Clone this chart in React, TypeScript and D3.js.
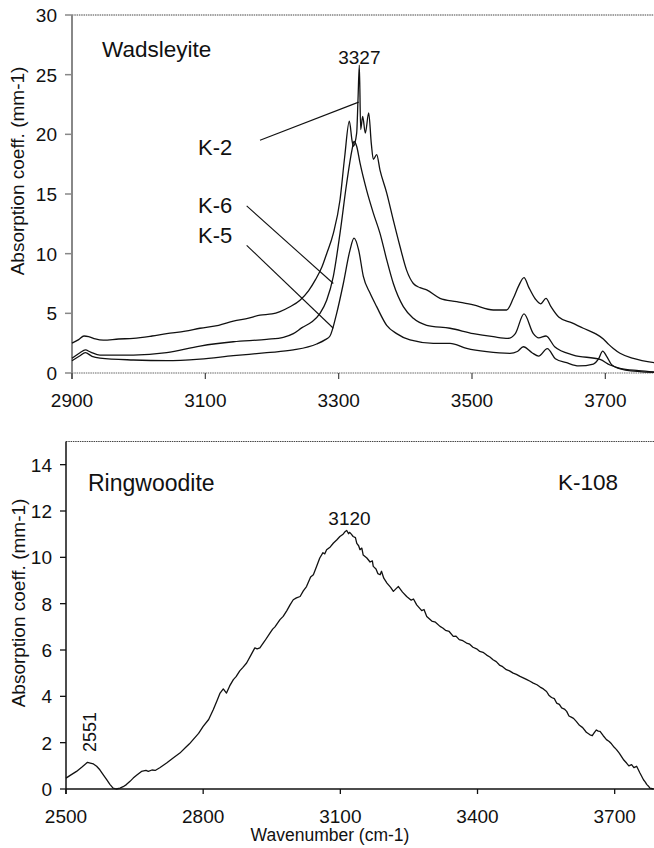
import React from "react";
import * as d3 from "d3";

type P = [number, number];

// Top panel (Wadsleyite) spectra: [wavenumber, absorption]
const K2: P[] = [
  [2900, 2.5], [2910, 2.8], [2918, 3.1], [2925, 3.05], [2935, 2.85], [2947, 2.75], [2970, 2.85], [2992, 2.9],
  [3020, 3.1], [3042, 3.3], [3070, 3.5], [3092, 3.75], [3120, 4.0], [3142, 4.35], [3165, 4.6],
  [3182, 4.85], [3200, 4.95], [3212, 5.15], [3227, 5.55], [3242, 6.1], [3255, 6.9], [3265, 7.8], [3275, 8.9],
  [3282, 10.0], [3292, 11.7], [3302, 14.5], [3309, 18.1], [3316, 21.1], [3320, 19.5], [3322, 19.0],
  [3327, 20.1], [3329, 22.9], [3331, 25.8], [3333, 20.4], [3336, 21.5], [3340, 20.1], [3345, 21.8],
  [3349, 19.2], [3352, 17.9], [3357, 18.3], [3362, 17.0], [3372, 15.1], [3382, 12.8], [3392, 10.6],
  [3402, 8.6], [3412, 7.5], [3422, 7.15], [3432, 6.96], [3452, 6.26], [3477, 5.98], [3502, 5.7],
  [3532, 5.28], [3552, 5.28], [3562, 6.26], [3570, 7.3], [3578, 8.0], [3585, 7.2], [3595, 6.2],
  [3603, 5.8], [3611, 6.26], [3618, 5.6], [3630, 4.7], [3650, 4.2], [3667, 3.75], [3685, 3.3],
  [3697, 2.85], [3705, 2.4], [3712, 2.05], [3722, 1.65], [3742, 1.23], [3775, 0.85],
];
const K6: P[] = [
  [2900, 1.23], [2912, 1.7], [2920, 1.93], [2928, 1.75], [2942, 1.5], [2965, 1.5], [2992, 1.5],
  [3042, 1.7], [3092, 2.26], [3142, 2.62], [3192, 2.82], [3217, 2.99], [3232, 3.3], [3245, 3.8],
  [3260, 4.3], [3272, 5.0], [3282, 6.1], [3292, 8.1], [3302, 11.7], [3312, 15.9], [3320, 18.7],
  [3323, 19.4], [3327, 19.0], [3332, 17.6], [3342, 15.3], [3352, 13.4], [3362, 11.7], [3372, 9.5],
  [3382, 7.5], [3397, 5.56], [3412, 4.58], [3432, 4.0], [3467, 3.75], [3502, 3.3], [3532, 3.04],
  [3554, 2.9], [3565, 3.3], [3578, 4.95], [3592, 3.3], [3600, 2.95], [3611, 3.1], [3624, 2.2],
  [3652, 1.5], [3692, 1.14], [3707, 0.67], [3722, 0.39], [3750, 0.2], [3775, 0.08],
];
const K5: P[] = [
  [2900, 1.03], [2912, 1.45], [2920, 1.7], [2930, 1.4], [2942, 1.25], [2992, 1.09], [3042, 1.03],
  [3092, 1.17], [3142, 1.45], [3192, 1.7], [3232, 1.93], [3267, 2.43], [3280, 2.8], [3287, 3.1],
  [3297, 5.0], [3307, 7.5], [3317, 10.3], [3323, 11.3], [3330, 10.3], [3337, 8.1], [3347, 6.7],
  [3357, 5.56], [3372, 4.0], [3387, 3.3], [3407, 2.77], [3442, 2.49], [3467, 2.49], [3492, 2.07],
  [3522, 1.79], [3557, 1.65], [3568, 1.8], [3577, 2.2], [3590, 1.7], [3600, 1.42], [3613, 2.04],
  [3625, 1.2], [3642, 0.86], [3660, 0.59], [3682, 0.75], [3690, 1.2], [3696, 1.84], [3702, 1.4],
  [3710, 0.67], [3730, 0.25], [3775, 0.05],
];

// Bottom panel (Ringwoodite K-108)
const K108: P[] = [
  [2500, 0.47], [2510, 0.6], [2523, 0.76], [2535, 0.95], [2547, 1.15], [2553, 1.12], [2560, 1.08],
  [2567, 0.98], [2574, 0.83], [2582, 0.6], [2589, 0.4], [2596, 0.2], [2603, 0.04], [2610, 0.0],
  [2618, 0.04], [2625, 0.1], [2632, 0.19], [2640, 0.33], [2647, 0.47], [2655, 0.6], [2665, 0.76],
  [2675, 0.8], [2680, 0.76], [2688, 0.82], [2695, 0.8], [2705, 0.92], [2720, 1.12], [2735, 1.35],
  [2749, 1.55], [2762, 1.8], [2770, 1.95], [2778, 2.13], [2790, 2.4], [2800, 2.7], [2812, 3.0],
  [2822, 3.42], [2830, 3.8], [2837, 4.14], [2844, 4.32], [2851, 4.14], [2858, 4.45], [2866, 4.72],
  [2872, 4.85], [2880, 5.1], [2887, 5.25], [2895, 5.44], [2905, 5.8], [2913, 6.09], [2918, 6.05],
  [2924, 6.09], [2935, 6.4], [2946, 6.73], [2952, 6.9], [2957, 7.0], [2968, 7.31], [2975, 7.45],
  [2983, 7.7], [2990, 7.95], [2997, 8.17], [3004, 8.25], [3012, 8.31], [3019, 8.55], [3026, 8.74],
  [3035, 9.15], [3041, 9.25], [3048, 9.6], [3055, 9.97], [3062, 10.2], [3066, 10.15], [3070, 10.33],
  [3078, 10.45], [3085, 10.62], [3092, 10.75], [3099, 10.9], [3106, 11.0], [3110, 11.1], [3114, 11.16],
  [3118, 11.02], [3120, 11.08], [3124, 11.0], [3128, 10.9], [3133, 10.85], [3136, 10.6], [3140, 10.5],
  [3143, 10.33], [3147, 10.4], [3150, 10.1], [3158, 9.97], [3165, 9.8], [3170, 9.85], [3172, 9.61],
  [3178, 9.5], [3182, 9.3], [3187, 9.25], [3190, 9.4], [3195, 9.1], [3202, 8.89], [3210, 8.7],
  [3216, 8.53], [3222, 8.65], [3227, 8.74], [3236, 8.5], [3245, 8.31], [3255, 8.15], [3260, 8.2],
  [3267, 7.95], [3278, 7.7], [3283, 7.75], [3289, 7.45], [3300, 7.25], [3308, 7.2], [3318, 7.02],
  [3324, 6.95], [3330, 6.85], [3338, 6.8], [3347, 6.59], [3353, 6.6], [3360, 6.45], [3368, 6.4],
  [3376, 6.3], [3383, 6.25], [3390, 6.12], [3398, 6.05], [3405, 5.94], [3412, 5.9], [3420, 5.78],
  [3427, 5.7], [3434, 5.58], [3441, 5.5], [3448, 5.35], [3455, 5.28], [3463, 5.15], [3470, 5.1],
  [3478, 5.0], [3485, 4.95], [3493, 4.86], [3500, 4.8], [3508, 4.72], [3515, 4.65], [3522, 4.57],
  [3530, 4.5], [3537, 4.4], [3544, 4.32], [3551, 4.21], [3556, 4.05], [3562, 3.95], [3568, 3.9],
  [3573, 3.71], [3579, 3.65], [3584, 3.5], [3590, 3.45], [3595, 3.35], [3600, 3.15], [3605, 3.1],
  [3610, 3.05], [3616, 2.92], [3623, 2.75], [3630, 2.65], [3638, 2.45], [3646, 2.34], [3651, 2.3],
  [3655, 2.42], [3660, 2.55], [3664, 2.5], [3668, 2.49], [3675, 2.3], [3682, 2.13], [3688, 2.05],
  [3693, 1.95], [3699, 1.8], [3704, 1.7], [3710, 1.55], [3715, 1.4], [3720, 1.25], [3726, 1.12],
  [3731, 1.0], [3737, 1.05], [3742, 0.92], [3748, 0.98], [3755, 0.7], [3759, 0.55], [3763, 0.4],
  [3767, 0.3], [3770, 0.2], [3774, 0.12], [3777, 0.04], [3785, 0.0],
];

const TOP_X_TICKS = [2900, 3100, 3300, 3500, 3700];
const TOP_Y_TICKS = [0, 5, 10, 15, 20, 25, 30];
const BOT_X_TICKS = [2500, 2800, 3100, 3400, 3700];
const BOT_Y_TICKS = [0, 2, 4, 6, 8, 10, 12, 14];

// Labels with leader lines (data coordinates): [label, textX, textY, lineX1, lineY1, lineX2, lineY2]
const TOP_LABELS: [string, number, number, number, number, number, number][] = [
  ["K-2", 3089, 18.3, 3182, 19.5, 3330, 22.7],
  ["K-6", 3089, 13.4, 3162, 14.0, 3292, 7.5],
  ["K-5", 3089, 10.9, 3162, 10.7, 3292, 3.75],
];

const FONT = "'Liberation Sans', Arial, Helvetica, sans-serif";

export default function App() {
  const W = 654, H = 848;
  // top panel
  const tx = d3.scaleLinear().domain([2900, 3773]).range([72, 654]);
  const ty = d3.scaleLinear().domain([0, 30]).range([373, 15]);
  // bottom panel
  const bx = d3.scaleLinear().domain([2500, 3786]).range([66, 654]);
  const by = d3.scaleLinear().domain([0, 15]).range([789, 441.5]);

  const tLine = d3.line<P>().x((d) => tx(d[0])).y((d) => ty(d[1])).curve(d3.curveMonotoneX);
  const bLine = d3.line<P>().x((d) => bx(d[0])).y((d) => by(d[1]));

  const tickFont = 19;

  return (
    <svg
      width={W}
      height={H}
      style={{ position: "absolute", left: 0, top: 0, background: "#fff" }}
      fontFamily={FONT}
    >
      <rect x={0} y={0} width={W} height={H} fill="#fff" />
      {/* ===== TOP PANEL ===== */}
      <line x1={tx(2900)} x2={654} y1={ty(30)} y2={ty(30)} stroke="#444" strokeWidth={1} strokeDasharray="1.5,0.8" />
      <line x1={tx(2900)} x2={654} y1={ty(0)} y2={ty(0)} stroke="#666" strokeWidth={1.2} strokeDasharray="1.5,0.8" />
      <line x1={tx(2900)} x2={tx(2900)} y1={ty(30)} y2={ty(0) + 6} stroke="#888" strokeWidth={2} />
      {TOP_Y_TICKS.map((t) => (
        <g key={"ty" + t}>
          <line x1={tx(2900) - 7} x2={tx(2900)} y1={ty(t)} y2={ty(t)} stroke="#888" strokeWidth={1.5} />
          <text x={57} y={ty(t)} dy="0.36em" textAnchor="end" fontSize={tickFont} fill="#111">{t}</text>
        </g>
      ))}
      {TOP_X_TICKS.map((t) => (
        <g key={"tx" + t}>
          <line x1={tx(t)} x2={tx(t)} y1={ty(0)} y2={ty(0) + 6} stroke="#444" strokeWidth={1.2} />
          <text x={tx(t)} y={407} textAnchor="middle" fontSize={tickFont} fill="#111">{t}</text>
        </g>
      ))}
      <text transform={`translate(24,171) rotate(-90)`} textAnchor="middle" fontSize={19} fill="#111">
        Absorption coeff. (mm-1)
      </text>
      <text x={102} y={57} fontSize={22.5} fill="#111">Wadsleyite</text>
      <text x={tx(3331)} y={64} textAnchor="middle" fontSize={19} fill="#111">3327</text>
      {[K2, K6, K5].map((s, i) => (
        <path key={"s" + i} d={tLine(s) || ""} fill="none" stroke="#111" strokeWidth={1.3} strokeLinejoin="round" />
      ))}
      {TOP_LABELS.map(([lab, lx, ly, x1, y1, x2, y2]) => (
        <g key={lab}>
          <text x={tx(lx)} y={ty(ly)} fontSize={22} fill="#111">{lab}</text>
          <line x1={tx(x1)} y1={ty(y1)} x2={tx(x2)} y2={ty(y2)} stroke="#111" strokeWidth={1.1} />
        </g>
      ))}

      {/* ===== BOTTOM PANEL ===== */}
      <line x1={bx(2500)} x2={654} y1={by(15)} y2={by(15)} stroke="#444" strokeWidth={1} strokeDasharray="1.5,0.8" />
      <line x1={bx(2500)} x2={654} y1={by(0)} y2={by(0)} stroke="#111" strokeWidth={1.5} />
      <line x1={bx(2500)} x2={bx(2500)} y1={by(15)} y2={by(0) + 5} stroke="#111" strokeWidth={1.5} />
      {BOT_Y_TICKS.map((t) => (
        <g key={"by" + t}>
          <line x1={bx(2500) - 6} x2={bx(2500)} y1={by(t)} y2={by(t)} stroke="#111" strokeWidth={1.3} />
          <text x={52} y={by(t)} dy="0.36em" textAnchor="end" fontSize={tickFont} fill="#111">{t}</text>
        </g>
      ))}
      {BOT_X_TICKS.map((t) => (
        <g key={"bx" + t}>
          <line x1={bx(t)} x2={bx(t)} y1={by(0)} y2={by(0) + 5} stroke="#111" strokeWidth={1.3} />
          <text x={bx(t)} y={823} textAnchor="middle" fontSize={tickFont} fill="#111">{t}</text>
        </g>
      ))}
      <text transform={`translate(25,603) rotate(-90)`} textAnchor="middle" fontSize={19} fill="#111">
        Absorption coeff. (mm-1)
      </text>
      <text x={330} y={841} textAnchor="middle" fontSize={17.5} fill="#111">Wavenumber (cm-1)</text>
      <text x={88} y={491} fontSize={23} fill="#111">Ringwoodite</text>
      <text x={558} y={490} fontSize={22.5} fill="#111">K-108</text>
      <text x={bx(3120)} y={525} textAnchor="middle" fontSize={19} fill="#111">3120</text>
      <text transform={`translate(${bx(2551) + 7},732) rotate(-90)`} textAnchor="middle" fontSize={18} fill="#111">
        2551
      </text>
      <path d={bLine(K108) || ""} fill="none" stroke="#111" strokeWidth={1.3} strokeLinejoin="round" />
    </svg>
  );
}
